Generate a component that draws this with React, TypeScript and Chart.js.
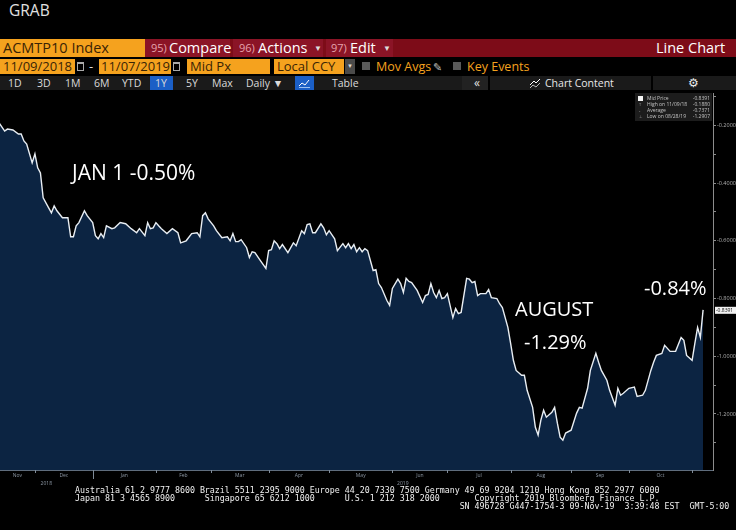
import { useEffect, useRef } from "react";
import Chart from "chart.js/auto";

// trading days counted from 11/09/2018 (day 0) to 11/07/2019 (day 259)
const tradingDay = [
  0, 3, 5, 6, 8, 10, 11, 12, 13, 15,
  16, 17, 18, 19, 21, 22, 23, 24, 26, 28,
  29, 30, 31, 32, 34, 35, 37, 38, 39, 40,
  41, 42, 44, 45, 47, 49, 51, 53, 54, 56,
  57, 58, 59, 60, 61, 62, 64, 66, 68, 69,
  71, 73, 75, 76, 77, 78, 79, 81, 82, 84,
  86, 87, 88, 89, 90, 91, 93, 94, 95, 96,
  98, 100, 101, 102, 103, 104, 105, 106, 108, 110,
  111, 113, 114, 115, 116, 117, 118, 120, 121, 122,
  123, 125, 126, 128, 129, 130, 131, 132, 133, 134,
  135, 136, 137, 139, 140, 141, 142, 144, 145, 146,
  148, 149, 150, 151, 152, 153, 155, 157, 158, 159,
  160, 161, 162, 163, 164, 165, 166, 168, 169, 170,
  171, 173, 174, 175, 176, 177, 178, 180, 181, 182,
  184, 185, 186, 188, 189, 190, 191, 193, 194, 195,
  197, 198, 199, 200, 201, 202, 204, 205, 206, 207,
  208, 209, 211, 213, 214, 215, 217, 218, 220, 221,
  222, 224, 225, 227, 228, 229, 230, 232, 234, 235,
  237, 238, 240, 241, 242, 244, 245, 247, 249, 251,
  252, 253, 255, 256, 257, 258, 259,
];

const midPrice = [
  -0.188, -0.192, -0.220, -0.213, -0.216, -0.230, -0.230, -0.254, -0.265, -0.330,
  -0.299, -0.347, -0.365, -0.451, -0.486, -0.503, -0.479, -0.496, -0.520, -0.520,
  -0.586, -0.586, -0.548, -0.537, -0.496, -0.513, -0.537, -0.582, -0.593, -0.575,
  -0.589, -0.548, -0.558, -0.555, -0.537, -0.541, -0.558, -0.572, -0.558, -0.582,
  -0.537, -0.558, -0.555, -0.537, -0.548, -0.558, -0.575, -0.558, -0.572, -0.607,
  -0.600, -0.575, -0.572, -0.586, -0.513, -0.503, -0.524, -0.548, -0.565, -0.589,
  -0.586, -0.600, -0.575, -0.603, -0.603, -0.596, -0.624, -0.658, -0.638, -0.641,
  -0.669, -0.696, -0.634, -0.631, -0.600, -0.610, -0.627, -0.613, -0.641, -0.607,
  -0.617, -0.565, -0.575, -0.544, -0.541, -0.572, -0.572, -0.541, -0.555, -0.579,
  -0.565, -0.593, -0.634, -0.610, -0.624, -0.610, -0.627, -0.613, -0.638, -0.624,
  -0.638, -0.627, -0.634, -0.703, -0.700, -0.748, -0.762, -0.807, -0.824, -0.765,
  -0.733, -0.748, -0.779, -0.730, -0.741, -0.745, -0.772, -0.814, -0.790, -0.786,
  -0.748, -0.779, -0.797, -0.772, -0.800, -0.797, -0.783, -0.866, -0.835, -0.852,
  -0.848, -0.730, -0.733, -0.745, -0.741, -0.790, -0.783, -0.783, -0.769, -0.797,
  -0.800, -0.818, -0.831, -0.900, -0.955, -1.014, -1.049, -1.066, -1.066, -1.118,
  -1.177, -1.246, -1.273, -1.221, -1.187, -1.211, -1.194, -1.177, -1.232, -1.280,
  -1.2907, -1.266, -1.256, -1.197, -1.177, -1.180, -1.111, -1.049, -0.990, -1.021,
  -1.049, -1.083, -1.118, -1.170, -1.111, -1.135, -1.128, -1.111, -1.107, -1.139,
  -1.135, -1.118, -1.049, -1.021, -0.997, -0.990, -0.962, -0.983, -0.983, -0.935,
  -0.945, -0.997, -1.014, -0.955, -0.900, -0.935, -0.8391,
];

const monthNames = ["Nov", "Dec", "Jan", "Feb", "Mar", "Apr", "May", "Jun", "Jul", "Aug", "Sep", "Oct"];
// first trading day of Dec 2018 ... Nov 2019
const monthStarts = [16, 37, 60, 80, 101, 123, 146, 166, 189, 211, 232, 255];
const yearNames = ["2018", "2019"];
const yearStart = 37;
const yTickValues = [-1.3, -1.2, -1.1, -1.0, -0.9, -0.8, -0.7, -0.6, -0.5, -0.4, -0.3, -0.2, -0.1];
const legendRows = [
  ["Mid Price", "-0.8391"],
  ["High on 11/09/18", "-0.1880"],
  ["Average", "-0.7371"],
  ["Low on 08/28/19", "-1.2907"],
];

const X_MIN = 3.3;
const X_MAX = 262.6;
const Y_MIN = -1.394;
const Y_MAX = -0.088;

const monthLabelAt = monthNames.map((_, i) =>
  i === 0 ? (X_MIN + monthStarts[0]) / 2 : (monthStarts[i - 1] + monthStarts[i]) / 2
);

const ORANGE = "#f5a21e";
const FIELD_TEXT = "#3a2405";
const RED_BAR = "#7d0c18";
const RED_SEG = "#8b1426";
const BLUE = "#1b5fc6";

const decorations = {
  id: "decorations",
  afterDraw(chart: any) {
    const { ctx, chartArea, scales } = chart;
    const x = scales.x;
    const y = scales.y;
    ctx.save();

    // month boundary ticks
    ctx.strokeStyle = "#7f8b98";
    ctx.lineWidth = 1;
    monthStarts.forEach((d) => {
      const px = Math.round(x.getPixelForValue(d)) + 0.5;
      const len = d === yearStart ? 9 : 3;
      ctx.beginPath();
      ctx.moveTo(px, chartArea.bottom);
      ctx.lineTo(px, chartArea.bottom + len);
      ctx.stroke();
    });

    // year labels
    ctx.fillStyle = "#8d98a5";
    ctx.font = "5px 'Open Sans'";
    ctx.textAlign = "center";
    ctx.textBaseline = "middle";
    const spans = [[X_MIN, yearStart], [yearStart, X_MAX]];
    spans.forEach(([a, b], i) => {
      const cx = (x.getPixelForValue(a) + x.getPixelForValue(b)) / 2;
      ctx.fillText(yearNames[i], cx, chartArea.bottom + 14);
    });

    // last value tag
    const last = midPrice[midPrice.length - 1];
    const py = y.getPixelForValue(last);
    ctx.fillStyle = "#f2f2f2";
    ctx.fillRect(chartArea.right + 2, py - 3, 21, 7);
    ctx.fillStyle = "#111";
    ctx.textAlign = "left";
    ctx.font = "5px 'Open Sans'";
    ctx.fillText(last.toFixed(4), chartArea.right + 3, py + 0.5);

    // legend box
    ctx.fillStyle = "#1c1c1c";
    ctx.fillRect(635, 1, 77, 28);
    ctx.fillStyle = "#f4f4f4";
    ctx.fillRect(638, 4, 5, 5);
    const marks = ["", "T", "-", "\u22A5"];
    legendRows.forEach(([label, val], i) => {
      const ry = 6.5 + i * 6;
      ctx.fillStyle = "#9a9a9a";
      ctx.textAlign = "left";
      ctx.font = "4px 'Open Sans'";
      if (marks[i]) ctx.fillText(marks[i], 639, ry);
      ctx.fillStyle = "#c4c4c4";
      ctx.font = "5px 'Open Sans'";
      ctx.fillText(label, 647, ry);
      ctx.textAlign = "right";
      ctx.fillText(val, 710, ry);
    });

    ctx.restore();
  },
};

const T = ({ x, y, h, size, color, children, style }: any) => (
  <div
    style={{
      position: "absolute",
      left: x,
      top: y,
      fontSize: size,
      lineHeight: `${h}px`,
      height: h,
      color,
      whiteSpace: "pre",
      ...style,
    }}
  >
    {children}
  </div>
);

const Box = ({ x, y, w, h, bg, style }: any) => (
  <div style={{ position: "absolute", left: x, top: y, width: w, height: h, background: bg, ...style }} />
);

const footer = [
  "Australia 61 2 9777 8600 Brazil 5511 2395 9000 Europe 44 20 7330 7500 Germany 49 69 9204 1210 Hong Kong 852 2977 6000",
  "Japan 81 3 4565 8900      Singapore 65 6212 1000      U.S. 1 212 318 2000       Copyright 2019 Bloomberg Finance L.P.",
  " ".repeat(77) + "SN 496728 G447-1754-3 09-Nov-19  3:39:48 EST  GMT-5:00",
];

export default function App() {
  const canvasRef: any = useRef(null);

  useEffect(() => {
    const ctx = canvasRef.current.getContext("2d");
    const chart = new Chart(ctx, {
      type: "line",
      data: {
        datasets: [
          {
            data: tradingDay.map((d, i) => ({ x: d, y: midPrice[i] })),
            borderColor: "#e9eef3",
            borderWidth: 1.4,
            backgroundColor: "#0c2442",
            fill: "start",
            pointRadius: 0,
            tension: 0,
          },
        ],
      },
      options: {
        animation: false,
        responsive: true,
        maintainAspectRatio: false,
        layout: { padding: 0 },
        plugins: { legend: { display: false }, tooltip: { enabled: false } },
        scales: {
          x: {
            type: "linear",
            min: X_MIN,
            max: X_MAX,
            afterBuildTicks: (s: any) => {
              s.ticks = monthLabelAt.map((v) => ({ value: v }));
            },
            afterFit: (s: any) => {
              s.height = 20;
            },
            ticks: {
              autoSkip: false,
              maxRotation: 0,
              minRotation: 0,
              padding: 3,
              color: "#8d98a5",
              font: { size: 5, family: "'Open Sans'" },
              callback: (_v: any, i: number) => monthNames[i],
            },
            grid: { drawOnChartArea: false, drawTicks: false },
            border: { color: "#5f6d7d" },
          },
          y: {
            position: "right",
            min: Y_MIN,
            max: Y_MAX,
            afterBuildTicks: (s: any) => {
              s.ticks = yTickValues.map((v) => ({ value: v }));
            },
            afterFit: (s: any) => {
              s.width = 23;
            },
            ticks: {
              autoSkip: false,
              padding: 1,
              color: "#b0b0b0",
              font: { size: 5.5, family: "'Open Sans'", lineHeight: 0 },
              callback: (v: any) => (Math.round(Math.abs(v) * 10) % 2 === 0 ? Number(v).toFixed(4) : ""),
            },
            grid: { drawOnChartArea: false, drawTicks: true, tickLength: 3, color: "#8c8c8c" },
            border: { color: "#8c8c8c" },
          },
        },
      },
      plugins: [decorations],
    });

    return () => {
      chart.destroy();
    };
  }, []);

  const ui = "'Open Sans', 'Noto Sans', sans-serif";

  return (
    <div
      style={{
        position: "fixed",
        left: 0,
        top: 0,
        width: 736,
        height: 530,
        background: "#000",
        overflow: "hidden",
        fontFamily: ui,
      }}
    >
      <div style={{ position: "absolute", left: 0, top: 92, width: 736, height: 398 }}>
        <canvas ref={canvasRef}></canvas>
      </div>

      <T x={9} y={0} h={20} size={15.5} color="#e0e0e0">GRAB</T>

      {/* row 1 */}
      <Box x={0} y={39} w={145} h={18} bg={ORANGE} />
      <T x={3} y={39} h={18} size={14.5} color={FIELD_TEXT}>ACMTP10 Index</T>
      <Box x={145} y={39} w={591} h={18} bg={RED_BAR} />
      <Box x={145} y={39} w={85} h={18} bg={RED_SEG} />
      <Box x={233} y={39} w={90} h={18} bg={RED_SEG} />
      <Box x={326} y={39} w={67} h={18} bg={RED_SEG} />
      <T x={151} y={39} h={18} size={11} color="#e6a3ae">95)</T>
      <T x={169} y={39} h={18} size={14.5} color="#fff">Compare</T>
      <T x={239} y={39} h={18} size={11} color="#e6a3ae">96)</T>
      <T x={258} y={39} h={18} size={14.5} color="#fff">Actions</T>
      <T x={314} y={39} h={18} size={8} color="#ddd">▼</T>
      <T x={331} y={39} h={18} size={11} color="#e6a3ae">97)</T>
      <T x={350} y={39} h={18} size={14.5} color="#fff">Edit</T>
      <T x={383} y={39} h={18} size={8} color="#ddd">▼</T>
      <T x={656} y={39} h={18} size={14.5} color="#fff">Line Chart</T>

      {/* row 2 */}
      <Box x={0} y={59} w={75} h={15} bg={ORANGE} />
      <T x={3} y={59} h={15} size={13} color={FIELD_TEXT}>11/09/2018</T>
      <Box x={77} y={62} w={5} h={6} bg="transparent" style={{ border: "1px solid #aaa", borderTop: "2px solid #aaa" }} />
      <T x={89} y={59} h={15} size={13} color="#ddd">-</T>
      <Box x={99} y={59} w={72} h={15} bg={ORANGE} />
      <T x={101} y={59} h={15} size={13} color={FIELD_TEXT}>11/07/2019</T>
      <Box x={173} y={62} w={5} h={6} bg="transparent" style={{ border: "1px solid #aaa", borderTop: "2px solid #aaa" }} />
      <Box x={187} y={59} w={83} h={15} bg={ORANGE} />
      <T x={190} y={59} h={15} size={13} color={FIELD_TEXT}>Mid Px</T>
      <Box x={274} y={59} w={70} h={15} bg={ORANGE} />
      <T x={277} y={59} h={15} size={13} color={FIELD_TEXT}>Local CCY</T>
      <Box x={345} y={59} w={10} h={15} bg="#4a4a4a" />
      <T x={347} y={59} h={15} size={6} color="#ddd">▼</T>
      <Box x={362} y={62} w={8} h={8} bg="#5a5a5a" />
      <T x={376} y={59} h={15} size={12.5} color={ORANGE}>Mov Avgs</T>
      <T x={433} y={59} h={15} size={11} color="#bbb">✎</T>
      <Box x={453} y={62} w={8} h={8} bg="#5a5a5a" />
      <T x={467} y={59} h={15} size={12.5} color={ORANGE}>Key Events</T>

      {/* row 3 */}
      <Box x={0} y={76} w={736} h={14} bg="#1a1a1a" />
      <Box x={150} y={76} w={23} h={14} bg={BLUE} />
      <Box x={295} y={76} w={19} h={14} bg={BLUE} />
      <svg style={{ position: "absolute", left: 298, top: 78 }} width={13} height={10}>
        <polyline points="1,8 4,5 7,7 11,2" fill="none" stroke="#fff" strokeWidth={1} />
        <line x1={1} y1={9.5} x2={12} y2={9.5} stroke="#9cc0f0" strokeWidth={1} />
      </svg>
      {[
        ["1D", 8],
        ["3D", 37],
        ["1M", 65],
        ["6M", 94],
        ["YTD", 122],
        ["1Y", 155],
        ["5Y", 186],
        ["Max", 212],
        ["Daily ▼", 246],
        ["Table", 332],
      ].map(([t, x]: any) => (
        <T key={t} x={x} y={76} h={14} size={10.5} color="#dadada">{t}</T>
      ))}
      <Box x={462} y={76} w={26} h={14} bg="#222" />
      <T x={474} y={76} h={14} size={12} color="#e0e0e0">«</T>
      <Box x={488} y={76} w={2} h={14} bg="#000" />
      <svg style={{ position: "absolute", left: 529, top: 78 }} width={13} height={11}>
        <polyline points="1,7 5,3 7,5 11,1" fill="none" stroke="#fff" strokeWidth={1} />
        <polyline points="1,10 4,7 7,9 11,5" fill="none" stroke="#bbb" strokeWidth={1} />
      </svg>
      <T x={545} y={76} h={14} size={10.5} color="#e8e8e8">Chart Content</T>
      <Box x={651} y={76} w={2} h={14} bg="#000" />
      <T x={688} y={76} h={14} size={12} color="#e8e8e8">⚙</T>

      {/* annotations */}
      <T x={72} y={162} h={21} size={21} color="#fff">JAN 1 -0.50%</T>
      <T x={515} y={299} h={20} size={20} color="#fff">AUGUST</T>
      <T x={524} y={332} h={20} size={20} color="#fff">-1.29%</T>
      <T x={644} y={278} h={20} size={20} color="#fff">-0.84%</T>

      {/* footer */}
      <div
        style={{
          position: "absolute",
          left: 75,
          top: 487,
          fontFamily: "'DejaVu Sans Mono', monospace",
          fontSize: 8.3,
          lineHeight: "7.8px",
          color: "#f0f0f0",
          whiteSpace: "pre",
        }}
      >
        {footer.join("\n")}
      </div>
    </div>
  );
}
